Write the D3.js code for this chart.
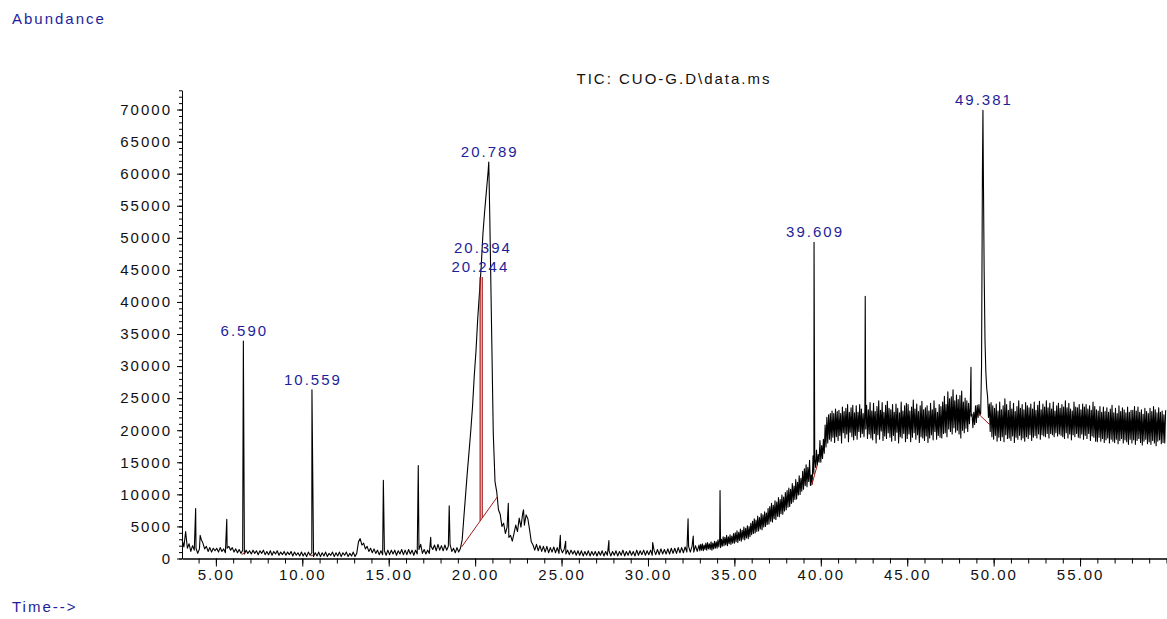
<!DOCTYPE html>
<html>
<head>
<meta charset="utf-8">
<title>TIC: CUO-G.D\data.ms</title>
<script src="https://cdn.jsdelivr.net/npm/d3@7"></script>
<style>
  html, body { margin: 0; padding: 0; background: #fff; }
  svg { display: block; }
  text { font-family: "Liberation Sans", Arial, sans-serif; font-size: 15px; letter-spacing: 2px; }
</style>
</head>
<body>
<div id="chart"></div>
<script>
(function(undefined) {
  'use strict';

  var
    WIDTH = 1167,
    HEIGHT = 619,

    BLUE = '#1e1e9a',
    RED = '#a31818',

    // TIC sampled every 0.1 min starting at 3.05 min, abundance in thousands.
    // one row per minute (3.05 ... 3.95, 4.05 ... 4.95, ...)
    SAMPLE_START = 3.05,
    SAMPLE_STEP = 0.1,

    ticK = [
      2.9, 1.8, 4.2, 1.6, 2.3, 1.1, 2.0, 1.3, 1.6, 0.8,
      1.5, 3.0, 2.4, 1.5, 1.9, 1.1, 1.7, 1.0, 1.6, 1.2,
      1.6, 1.0, 1.7, 1.1, 1.5, 0.9, 1.6, 1.9, 1.3, 1.7,
      1.0, 1.5, 0.9, 1.4, 0.8, 1.3, 0.7, 1.3, 0.8, 1.2,
      0.7, 1.3, 0.8, 1.2, 0.6, 1.2, 0.8, 1.3, 0.6, 1.1,
      0.6, 1.2, 0.5, 1.1, 0.7, 1.2, 0.5, 1.0, 0.6, 1.1,
      0.5, 1.0, 0.6, 1.1, 0.4, 1.0, 0.5, 0.9, 0.4, 1.0,
      0.4, 0.9, 0.3, 1.0, 0.5, 0.9, 0.3, 0.9, 0.4, 1.0,
      0.3, 0.9, 0.4, 1.0, 0.3, 0.8, 0.5, 1.0, 0.3, 0.9,
      0.4, 1.0, 0.3, 0.9, 0.5, 1.0, 0.3, 0.8, 0.4, 1.0,
      0.3, 0.8, 2.6, 3.1, 2.1, 2.4, 1.5, 1.9, 1.1, 1.6,
      0.9, 1.5, 0.8, 1.3, 0.6, 1.2, 0.6, 1.2, 0.5, 1.3,
      0.6, 1.3, 0.7, 1.3, 0.5, 1.2, 0.7, 1.4, 0.6, 1.3,
      0.6, 1.4, 0.7, 1.3, 0.5, 1.3, 0.7, 1.4, 2.2, 0.8,
      1.4, 0.7, 1.3, 0.8, 1.9, 1.4, 2.1, 1.2, 2.2, 1.3,
      2.0, 1.2, 2.1, 1.3, 1.9, 2.2, 1.1, 1.6, 0.9, 1.7,
      1.0, 1.6, 2.9, 6.5, 10.0, 13.5, 16.7, 20.0, 23.7, 28.5,
      32.4, 37.4, 41.4, 45.5, 50.6, 54.1, 57.2, 60.3, 52.9, 36.1,
      19.5, 12.0, 10.4, 7.6, 6.9, 5.0, 5.5, 3.9, 4.9, 3.3,
      3.6, 2.7, 3.9, 5.2, 4.2, 6.3, 4.9, 7.0, 5.2, 6.8,
      6.2, 4.5, 2.6, 2.1, 1.3, 2.2, 1.2, 2.0, 1.1, 1.9,
      1.0, 1.9, 0.9, 1.7, 1.0, 1.8, 0.9, 1.7, 0.8, 1.6,
      0.9, 1.4, 0.7, 1.3, 0.6, 1.3, 0.7, 1.2, 0.5, 1.2,
      0.5, 1.2, 0.4, 1.1, 0.5, 1.2, 0.4, 1.1, 0.5, 1.1,
      0.4, 1.1, 0.5, 1.2, 0.4, 1.1, 0.5, 1.2, 0.4, 1.1,
      0.5, 1.2, 0.4, 1.1, 0.5, 1.3, 0.4, 1.1, 0.5, 1.2,
      0.5, 1.1, 0.4, 1.3, 0.5, 1.2, 0.6, 1.3, 0.5, 1.2,
      0.6, 1.3, 0.5, 1.3, 0.6, 1.4, 0.6, 1.5, 0.7, 1.4,
      0.7, 1.5, 0.7, 1.6, 0.8, 1.6, 0.8, 1.7, 0.9, 1.7,
      0.9, 1.8, 1.0, 1.9, 1.0, 1.9, 1.0, 2.0, 1.1, 2.1,
      2.2, 2.3, 2.1, 2.4, 2.5, 2.3, 2.6, 2.4, 2.7, 2.6,
      2.9, 3.1, 3.0, 3.4, 3.3, 3.6, 3.4, 3.7, 3.5, 3.9,
      4.0, 4.3, 4.1, 4.6, 4.4, 4.9, 4.7, 5.1, 5.0, 5.5,
      5.8, 6.2, 6.0, 6.6, 6.4, 7.0, 6.8, 7.3, 7.1, 7.8,
      8.1, 8.6, 8.3, 9.0, 8.8, 9.5, 9.2, 9.9, 9.6, 10.3,
      10.6, 11.0, 10.8, 11.7, 11.3, 12.3, 11.9, 12.9, 12.5, 13.6,
      14.0, 14.6, 14.2, 15.3, 13.0, 16.0, 15.4, 16.9, 16.2, 18.4,
      17.6, 18.6, 20.8, 22.0, 22.4, 22.6, 23.0, 22.6, 23.3, 22.9,
      23.1, 22.6, 23.6, 22.9, 23.4, 24.0, 22.8, 23.5, 23.9, 22.7,
      23.8, 22.8, 24.0, 23.3, 22.6, 23.5, 23.9, 23.2, 24.3, 23.0,
      24.2, 22.9, 23.7, 24.6, 23.1, 24.3, 22.8, 23.9, 24.5, 23.4,
      23.2, 24.0, 22.8, 24.1, 23.4, 22.7, 24.4, 23.0, 23.8, 24.2,
      24.0, 23.0, 23.6, 24.7, 23.3, 24.1, 22.9, 23.8, 24.5, 23.2,
      23.5, 23.8, 23.0, 24.2, 23.2, 24.6, 23.4, 22.8, 24.0, 23.7,
      24.4, 25.3, 24.0, 26.0, 24.9, 25.2, 26.3, 24.6, 25.5, 24.8,
      25.4, 26.1, 24.4, 25.0, 24.6, 24.2, 24.0, 22.5, 22.8, 23.8,
      23.9, 24.0, 22.6, 60.0, 45.0, 29.0, 25.2, 24.1, 24.3, 23.8,
      23.4, 24.1, 23.0, 24.4, 23.2, 23.8, 24.9, 24.0, 23.1, 24.5,
      23.3, 24.2, 22.9, 23.7, 24.6, 23.4, 24.0, 23.2, 24.3, 23.8,
      23.5, 24.1, 23.3, 24.4, 23.1, 23.9, 24.5, 23.2, 24.1, 23.6,
      24.6, 23.5, 24.2, 23.3, 24.4, 23.0, 23.8, 24.2, 23.4, 24.0,
      23.6, 24.6, 23.5, 24.2, 23.3, 23.0, 24.4, 23.6, 23.5, 24.0,
      23.2, 24.1, 23.6, 24.0, 23.3, 23.8, 23.1, 24.4, 23.7, 23.2,
      23.0, 23.7, 22.8, 23.6, 22.9, 23.5, 22.8, 23.3, 23.9, 22.7,
      23.4, 22.6, 23.8, 22.9, 23.5, 23.2, 22.7, 23.6, 22.8, 23.1,
      23.1, 23.7, 23.0, 23.6, 22.8, 23.2, 22.5, 23.4, 22.9, 22.6,
      23.4, 22.9, 23.7, 23.2, 22.7, 23.5, 22.8, 23.0, 22.4, 23.1
    ],

    // extra samples halfway between the above in the noisy tail, from 33.0 min
    HALF_START = 33.0,

    ticHalfK = [
      1.2, 1.3, 1.2, 1.4, 1.3, 1.5, 1.4, 1.3, 1.5, 1.6,
      1.6, 1.8, 1.7, 1.9, 2.0, 2.1, 2.0, 2.3, 2.2, 2.4,
      2.4, 2.6, 2.5, 2.8, 2.7, 3.0, 2.9, 3.2, 3.1, 3.4,
      3.7, 3.9, 4.0, 4.2, 4.3, 4.6, 4.5, 4.9, 5.0, 5.3,
      5.4, 5.8, 5.7, 6.2, 6.1, 6.6, 6.5, 7.0, 6.9, 7.4,
      7.6, 8.0, 8.1, 8.6, 8.8, 9.2, 9.3, 9.9, 10.0, 10.5,
      10.8, 11.4, 11.2, 12.0, 11.4, 11.6, 13.2, 14.2, 14.6, 15.0,
      15.0, 15.6, 16.4, 17.4, 18.0, 18.6, 18.3, 18.9, 18.1, 19.0,
      18.4, 19.2, 18.0, 19.6, 18.8, 19.4, 18.2, 19.7, 19.0, 18.5,
      19.2, 18.6, 19.8, 18.9, 19.5, 19.0, 20.2, 18.7, 19.4, 18.8,
      18.5, 19.5, 18.0, 19.3, 18.6, 19.9, 18.4, 19.1, 18.7, 19.6,
      18.9, 18.3, 19.2, 18.4, 19.7, 18.0, 19.0, 18.8, 19.5, 18.2,
      18.7, 19.4, 18.2, 18.9, 19.6, 18.6, 19.3, 18.1, 19.0, 18.8,
      18.4, 19.1, 18.1, 18.8, 19.3, 18.5, 19.8, 18.6, 19.2, 18.9,
      18.8, 19.5, 19.6, 19.0, 20.2, 19.8, 19.4, 20.4, 19.7, 20.0,
      19.4, 18.8, 20.0, 19.6, 20.3, 19.8, 21.0, 22.2, 20.4, 20.9,
      21.2, 22.0, 22.4, 30.0, 62.0, 34.0, 26.5, 22.0, 19.8, 19.0,
      18.6, 19.2, 18.3, 18.9, 18.4, 19.0, 18.2, 19.3, 18.7, 18.8,
      18.4, 19.1, 18.1, 18.9, 18.6, 19.2, 18.5, 18.8, 18.3, 19.0,
      18.7, 19.3, 18.4, 18.9, 19.2, 18.8, 19.4, 18.6, 19.3, 19.1,
      19.0, 19.5, 18.8, 19.5, 19.3, 19.0, 19.6, 19.1, 19.4, 19.2,
      19.0, 18.7, 19.6, 18.8, 19.4, 18.5, 19.3, 19.0, 19.5, 18.9,
      18.8, 19.4, 18.6, 19.2, 18.7, 19.5, 18.4, 19.1, 18.9, 18.3,
      18.2, 18.9, 18.3, 18.7, 18.1, 18.5, 18.8, 18.0, 18.6, 18.3,
      18.1, 18.6, 17.9, 18.4, 18.7, 18.0, 18.5, 18.2, 17.8, 18.6,
      18.0, 18.5, 17.8, 18.4, 18.7, 18.1, 17.7, 18.3, 18.6, 17.9,
      18.2, 17.8, 18.4, 18.0, 17.6, 18.3, 18.5, 17.9, 18.1, 18.0
    ],

    // narrow peaks between samples: [time min, abundance thousands]
    spikes = [
      [3.83, 7.8], [4.09, 3.6], [5.63, 6.1], [6.59, 33.9], [10.559, 26.3],
      [14.69, 12.2], [16.71, 14.5], [17.43, 3.3], [18.50, 8.2], [20.789, 61.8],
      [21.92, 8.6], [22.80, 7.6], [24.93, 3.6], [25.24, 2.7], [27.74, 2.8],
      [30.27, 2.5], [32.32, 6.2], [32.62, 3.5], [34.17, 10.6], [39.609, 49.3],
      [42.57, 40.9], [48.69, 29.8], [49.381, 69.9]
    ],

    // retention time labels: [text, time, abundance thousands]
    peakLabels = [
      ['6.590', 6.590, 33.9],
      ['10.559', 10.559, 26.3],
      ['20.244', 20.244, 43.9],
      ['20.394', 20.394, 43.9],
      ['20.789', 20.789, 61.8],
      ['39.609', 39.609, 49.3],
      ['49.381', 49.381, 69.9]
    ],

    // integration baselines: [t1, v1, t2, v2]
    integrationLines = [
      [6.49, 0.6, 6.74, 1.0],
      [10.49, 0.4, 10.68, 0.6],
      [19.22, 1.8, 21.28, 9.6],
      [39.47, 11.4, 39.80, 14.6],
      [49.10, 22.6, 49.80, 20.8]
    ],

    // peak split drop lines on the 19.22-21.28 baseline: [time, top]
    dropLines = [
      [20.29, 43.9],
      [20.41, 43.9]
    ],

    xMajorTicks = [5, 10, 15, 20, 25, 30, 35, 40, 45, 50, 55],
    xMinorTicks = d3.range(4, 61, 1),
    yMajorTicks = d3.range(0, 70001, 5000),
    yMinorTicks = d3.range(0, 73001, 1000),

    TITLE = 'TIC: CUO-G.D\\data.ms';

  var
    svg = d3.select('#chart')
            .append('svg')
            .attr('width', WIDTH)
            .attr('height', HEIGHT),

    xScale = d3.scaleLinear()
               .domain([3.04, 60.03])
               .range([182, 1167]),

    yScale = d3.scaleLinear()
               .domain([0, 73000])
               .range([558.5, 90.3]);

  var buildSeries = function() {
    var points = ticK.map(function(v, i) {
      return {t: SAMPLE_START + i * SAMPLE_STEP, v: v * 1000};
    });

    ticHalfK.forEach(function(v, i) {
      points.push({t: HALF_START + i * SAMPLE_STEP, v: v * 1000});
    });

    spikes.forEach(function(s) {
      points.push({t: s[0], v: s[1] * 1000});
    });

    return points.sort(function(a, b) { return a.t - b.t; });
  };

  var drawAxes = function() {
    svg.append('g')
       .attr('transform', 'translate(0,' + yScale(0) + ')')
       .call(d3.axisBottom(xScale)
               .tickValues(xMinorTicks)
               .tickSize(5)
               .tickSizeOuter(0)
               .tickFormat(''));

    svg.append('g')
       .attr('transform', 'translate(0,' + yScale(0) + ')')
       .call(d3.axisBottom(xScale)
               .tickValues(xMajorTicks)
               .tickSize(8)
               .tickSizeOuter(0)
               .tickPadding(3)
               .tickFormat(d3.format('.2f')));

    svg.append('g')
       .attr('transform', 'translate(' + xScale.range()[0] + ',0)')
       .call(d3.axisLeft(yScale)
               .tickValues(yMinorTicks)
               .tickSize(3)
               .tickSizeOuter(0)
               .tickFormat(''));

    svg.append('g')
       .attr('transform', 'translate(' + xScale.range()[0] + ',0)')
       .call(d3.axisLeft(yScale)
               .tickValues(yMajorTicks)
               .tickSize(5)
               .tickSizeOuter(0)
               .tickPadding(5)
               .tickFormat(d3.format('d')));

    svg.selectAll('.domain, .tick line')
       .attr('stroke', '#000')
       .attr('stroke-width', 1);

    svg.selectAll('.tick text')
       .attr('fill', '#111')
       .attr('font-family', '"Liberation Sans", Arial, sans-serif')
       .attr('font-size', 15);
  };

  var drawTrace = function() {
    var line = d3.line()
                 .x(function(d) { return xScale(d.t); })
                 .y(function(d) { return yScale(d.v); });

    svg.append('path')
       .datum(buildSeries())
       .attr('d', line)
       .attr('fill', 'none')
       .attr('stroke', '#000')
       .attr('stroke-width', 1.1)
       .attr('stroke-linejoin', 'round');
  };

  var drawIntegration = function() {
    var main = integrationLines[2];

    svg.selectAll('line.integration')
       .data(integrationLines)
       .enter()
       .append('line')
       .attr('class', 'integration')
       .attr('x1', function(d) { return xScale(d[0]); })
       .attr('y1', function(d) { return yScale(d[1] * 1000); })
       .attr('x2', function(d) { return xScale(d[2]); })
       .attr('y2', function(d) { return yScale(d[3] * 1000); })
       .attr('stroke', RED)
       .attr('stroke-width', 1);

    svg.selectAll('line.drop')
       .data(dropLines)
       .enter()
       .append('line')
       .attr('class', 'drop')
       .attr('x1', function(d) { return xScale(d[0]); })
       .attr('x2', function(d) { return xScale(d[0]); })
       .attr('y1', function(d) {
         var f = (d[0] - main[0]) / (main[2] - main[0]);
         return yScale((main[1] + f * (main[3] - main[1])) * 1000);
       })
       .attr('y2', function(d) { return yScale(d[1] * 1000); })
       .attr('stroke', RED)
       .attr('stroke-width', 1.2);
  };

  var drawLabels = function() {
    var placed = [];

    peakLabels.forEach(function(p) {
      var x = xScale(p[1]),
          y = yScale(p[2] * 1000) - 5,
          clash = true;

      // stack labels that would overlap
      while (clash) {
        clash = placed.some(function(q) {
          return Math.abs(q.x - x) < 50 && Math.abs(q.y - y) < 16;
        });
        if (clash) { y -= 19; }
      }
      placed.push({x: x, y: y});

      svg.append('text')
         .attr('x', x + 1)
         .attr('y', y)
         .attr('text-anchor', 'middle')
         .attr('fill', BLUE)
         .text(p[0]);
    });
  };

  var drawTitles = function() {
    svg.append('text')
       .attr('x', 12)
       .attr('y', 24)
       .attr('fill', BLUE)
       .text('Abundance');

    svg.append('text')
       .attr('x', 12)
       .attr('y', 612)
       .attr('fill', BLUE)
       .text('Time-->');

    svg.append('text')
       .attr('x', 674)
       .attr('y', 84)
       .attr('text-anchor', 'middle')
       .attr('fill', '#111')
       .text(TITLE);
  };

  drawAxes();
  drawTrace();
  drawIntegration();
  drawLabels();
  drawTitles();
})();
</script>
</body>
</html>
